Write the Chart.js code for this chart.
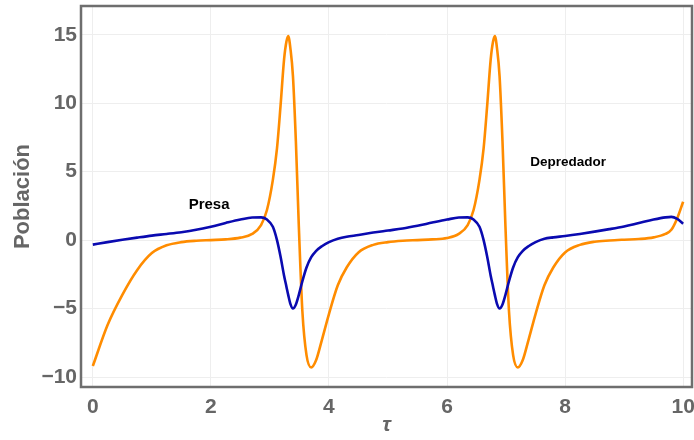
<!DOCTYPE html>
<html>
<head>
<meta charset="utf-8">
<script src="https://cdn.jsdelivr.net/npm/chart.js@4"></script>
<style>
  html, body { margin: 0; padding: 0; background: #fff; }
  #wrap { width: 694px; height: 440px; }
</style>
</head>
<body>
<div id="wrap"><canvas id="lvChart" width="694" height="440"></canvas></div>
<script>
// tiempo adimensional (eje x)
var tau = [0, 0.25, 0.5, 0.75, 1.0, 1.25, 1.5, 1.75, 2.0, 2.25, 2.5, 2.7, 2.85, 2.95,
  3.05, 3.12, 3.18, 3.24, 3.28, 3.31, 3.35, 3.39, 3.44, 3.49, 3.55, 3.62, 3.70, 3.78, 3.88,
  4.0, 4.15, 4.3, 4.5, 4.75, 5.0, 5.25, 5.5, 5.75, 6.0, 6.2, 6.35, 6.45,
  6.55, 6.62, 6.68, 6.74, 6.78, 6.81, 6.85, 6.89, 6.94, 6.99, 7.05, 7.12, 7.20, 7.28, 7.38,
  7.5, 7.65, 7.8, 8.0, 8.25, 8.5, 8.75, 9.0, 9.25, 9.5, 9.7, 9.8, 9.9, 10.0];

// presa (azul)
var presa = [-0.33, -0.15, 0.02, 0.18, 0.33, 0.45, 0.58, 0.75, 0.98, 1.25, 1.5, 1.65, 1.66, 1.5,
  0.97, 0.0, -1.2, -2.6, -3.4, -4.0, -4.7, -5.0, -4.7, -4.0, -3.0, -2.0, -1.25, -0.8, -0.45,
  -0.15, 0.1, 0.25, 0.37, 0.55, 0.7, 0.85, 1.05, 1.28, 1.5, 1.65, 1.66, 1.5,
  0.97, 0.0, -1.2, -2.6, -3.4, -4.0, -4.7, -5.0, -4.7, -4.0, -3.0, -2.0, -1.25, -0.8, -0.45,
  -0.15, 0.1, 0.2, 0.3, 0.45, 0.62, 0.8, 1.0, 1.25, 1.5, 1.66, 1.7, 1.55, 1.2];

// depredador (naranja)
var depredador = [-9.2, -6.2, -4.0, -2.2, -0.95, -0.38, -0.15, -0.05, 0.0, 0.05, 0.18, 0.45, 1.1, 2.2,
  4.4, 6.7, 9.8, 13.2, 14.5, 14.9, 13.9, 12.0, 7.2, 1.0, -5.2, -8.4, -9.3, -8.8, -7.3,
  -5.4, -3.3, -2.0, -0.9, -0.35, -0.15, -0.05, 0.0, 0.05, 0.15, 0.45, 1.1, 2.2,
  4.4, 6.7, 9.8, 13.2, 14.5, 14.9, 13.9, 12.0, 7.2, 1.0, -5.2, -8.4, -9.3, -8.8, -7.3,
  -5.4, -3.3, -2.0, -0.9, -0.35, -0.12, -0.03, 0.03, 0.08, 0.2, 0.45, 0.75, 1.6, 2.8];

var xTicks = [0, 2, 4, 6, 8, 10];
var yTicks = [-10, -5, 0, 5, 10, 15];

// etiquetas de texto dentro del grafico
var notas = [
  { text: 'Presa', x: 1.97, y: 2.56, size: 15 },
  { text: 'Depredador', x: 8.05, y: 5.7, size: 13.5 }
];

function puntos(ys) {
  return tau.map(function (t, i) { return { x: t, y: ys[i] }; });
}

var gris = '#666666';

var marcoYNotas = {
  id: 'marcoYNotas',
  afterDatasetsDraw: function (chart) {
    var ctx = chart.ctx, a = chart.chartArea;
    var sx = chart.scales.x, sy = chart.scales.y;
    ctx.save();
    ctx.fillStyle = '#000';
    ctx.textAlign = 'center';
    ctx.textBaseline = 'middle';
    notas.forEach(function (n) {
      ctx.font = 'bold ' + n.size + 'px "Liberation Sans", Arial, sans-serif';
      ctx.fillText(n.text, sx.getPixelForValue(n.x), sy.getPixelForValue(n.y));
    });
    ctx.strokeStyle = '#6e6e6e';
    ctx.lineWidth = 2.5;
    ctx.strokeRect(a.left, a.top, a.right - a.left, a.bottom - a.top);
    ctx.restore();
  }
};

var ctx = document.getElementById('lvChart').getContext('2d');
var chart = new Chart(ctx, {
  type: 'line',
  data: {
    datasets: [{
      label: 'Presa',
      data: puntos(presa),
      borderColor: '#0a0ab0',
      borderWidth: 2.6,
      pointRadius: 0,
      cubicInterpolationMode: 'monotone',
      fill: false
    }, {
      label: 'Depredador',
      data: puntos(depredador),
      borderColor: '#ff8c00',
      borderWidth: 2.6,
      pointRadius: 0,
      cubicInterpolationMode: 'monotone',
      fill: false
    }]
  },
  options: {
    responsive: false,
    animation: false,
    layout: { padding: { left: 0, right: 2, top: 6, bottom: 0 } },
    plugins: {
      legend: { display: false },
      tooltip: { enabled: false }
    },
    scales: {
      x: {
        type: 'linear',
        min: -0.2,
        max: 10.15,
        afterBuildTicks: function (s) { s.ticks = xTicks.map(function (v) { return { value: v }; }); },
        afterFit: function (s) { s.height = 53; s.paddingLeft = 0; s.paddingRight = 0; },
        grid: { color: '#eeeeee', lineWidth: 1, drawTicks: false },
        border: { display: false },
        ticks: {
          color: gris,
          padding: 8,
          maxRotation: 0,
          font: { family: '"Liberation Sans", Arial, sans-serif', size: 21, weight: 'bold' }
        },
        title: {
          display: true,
          text: 'τ',
          color: gris,
          padding: { top: 0, bottom: 2 },
          font: { family: '"Liberation Sans", Arial, sans-serif', size: 21, weight: 'bold', style: 'italic' }
        }
      },
      y: {
        min: -10.73,
        max: 17.1,
        afterBuildTicks: function (s) { s.ticks = yTicks.map(function (v) { return { value: v }; }); },
        afterFit: function (s) { s.width = 81; s.paddingTop = 0; s.paddingBottom = 0; },
        grid: { color: '#eeeeee', lineWidth: 1, drawTicks: false },
        border: { display: false },
        ticks: {
          color: gris,
          padding: 4,
          callback: function (v) { return v < 0 ? '\u2212' + Math.abs(v) : String(v); },
          font: { family: '"Liberation Sans", Arial, sans-serif', size: 21, weight: 'bold' }
        },
        title: {
          display: true,
          text: 'Población',
          color: gris,
          padding: { top: 10, bottom: 0 },
          font: { family: '"Liberation Sans", Arial, sans-serif', size: 22, weight: 'bold' }
        }
      }
    }
  },
  plugins: [marcoYNotas]
});
</script>
</body>
</html>
